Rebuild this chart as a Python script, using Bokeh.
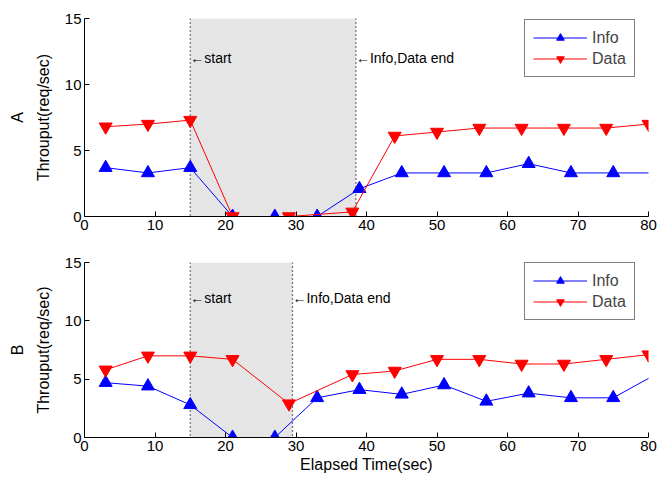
from bokeh.plotting import figure
from bokeh.layouts import column
from bokeh.models import Range1d, BoxAnnotation, Span, Label, Legend, FixedTicker
from bokeh.embed import file_html
from bokeh.resources import INLINE

# ---- data ----
x_ticks = [0, 10, 20, 30, 40, 50, 60, 70, 80]
y_ticks = [0, 5, 10, 15]

a_info_t = [3, 9, 15, 21, 27, 33, 39, 45, 51, 57, 63, 69, 75, 81]
a_info = [3.7, 3.3, 3.7, 0, 0, 0, 2.1, 3.3, 3.3, 3.3, 4.0, 3.3, 3.3, 3.3]
a_data_t = [3, 9, 15, 21, 29, 38, 44, 50, 56, 62, 68, 74, 80]
a_data = [6.8, 7.0, 7.3, 0, 0, 0.35, 6.1, 6.4, 6.7, 6.7, 6.7, 6.7, 7.0]
a_start, a_end = 15, 38.5

b_info_t = [3, 9, 15, 21, 27, 33, 39, 45, 51, 57, 63, 69, 75, 81]
b_info = [4.7, 4.4, 2.8, 0, 0, 3.4, 4.1, 3.7, 4.5, 3.1, 3.8, 3.4, 3.4, 5.4]
b_data_t = [3, 9, 15, 21, 29, 38, 44, 50, 56, 62, 68, 74, 80]
b_data = [5.8, 7.0, 7.0, 6.7, 2.9, 5.4, 5.7, 6.7, 6.7, 6.3, 6.3, 6.7, 7.1]
b_start, b_end = 15, 29.5

label_y = 12
FONT = "Liberation Sans"


def panel(letter, info_t, info, data_t, data, start, end, height, top, bottom, legend_bottom, xlabel=None):
    p = figure(width=667, height=height, output_backend="svg", toolbar_location=None,
               x_range=Range1d(0, 80), y_range=Range1d(0, 15),
               min_border_left=84, min_border_right=19, min_border_top=top,
               min_border_bottom=bottom)
    p.outline_line_color = None
    p.xgrid.visible = False
    p.ygrid.visible = False

    box = BoxAnnotation(left=start, right=end, fill_color="#e5e5e5", fill_alpha=1,
                        line_color=None, level="underlay")
    p.add_layout(box)
    for loc in (start, end):
        p.add_layout(Span(location=loc, dimension="height", line_color="black",
                          line_width=1.3, line_dash="1 3", level="underlay"))
    p.add_layout(Label(x=start, y=label_y, text="\u2190start", text_font=FONT,
                       text_font_size="14px", text_baseline="middle", text_color="black"))
    p.add_layout(Label(x=end, y=label_y, text="\u2190Info,Data end", text_font=FONT,
                       text_font_size="14px", text_baseline="middle", text_color="black"))

    l1 = p.line(info_t, info, line_color="#0000ff", line_width=1)
    m1 = p.scatter(info_t, info, marker="triangle", size=13, fill_color="#0000ff",
                   line_color="#0000ff")
    l2 = p.line(data_t, data, line_color="#ff0000", line_width=1)
    m2 = p.scatter(data_t, data, marker="inverted_triangle", size=13, fill_color="#ff0000",
                   line_color="#ff0000")

    legend = Legend(items=[("Info", [l1, m1]), ("Data", [l2, m2])],
                    location=(440, legend_bottom), margin=0, padding=8, spacing=2,
                    label_height=19, glyph_height=19, glyph_width=54, label_standoff=5,
                    label_text_font=FONT, label_text_font_size="16px",
                    border_line_color="black", border_line_width=1,
                    background_fill_color="white", background_fill_alpha=1)
    p.add_layout(legend)

    for ax in (p.xaxis[0], p.yaxis[0]):
        ax.major_tick_in = 5
        ax.major_tick_out = 0
        ax.minor_tick_in = 0
        ax.minor_tick_out = 0
        ax.major_label_text_font = FONT
        ax.major_label_text_font_size = "15px"
        ax.major_label_text_color = "black"
        ax.axis_line_color = "black"
        ax.major_tick_line_color = "black"
        ax.major_label_standoff = 3
        ax.axis_label_text_font = FONT
        ax.axis_label_text_font_style = "normal"
        ax.axis_label_text_color = "black"
    p.xaxis.ticker = FixedTicker(ticks=x_ticks)
    p.yaxis.ticker = FixedTicker(ticks=y_ticks)
    p.yaxis.axis_label = letter + "\nThrouput(req/sec)"
    p.yaxis.axis_label_text_font_size = "16px"
    p.yaxis.axis_label_text_line_height = 1.5
    p.yaxis.axis_label_standoff = 10
    if xlabel:
        p.xaxis.axis_label = xlabel
        p.xaxis.axis_label_text_font_size = "16px"
        p.xaxis.axis_label_standoff = 2
    return p


p1 = panel("A", a_info_t, a_info, a_data_t, a_data, a_start, a_end, 246, 18, 30, 139)
p2 = panel("B", b_info_t, b_info, b_data_t, b_data, b_start, b_end, 233, 16, 42, 117,
           xlabel="Elapsed Time(sec)")

layout = column(p1, p2, spacing=0)
open("out.html", "w").write(file_html(layout, INLINE))
